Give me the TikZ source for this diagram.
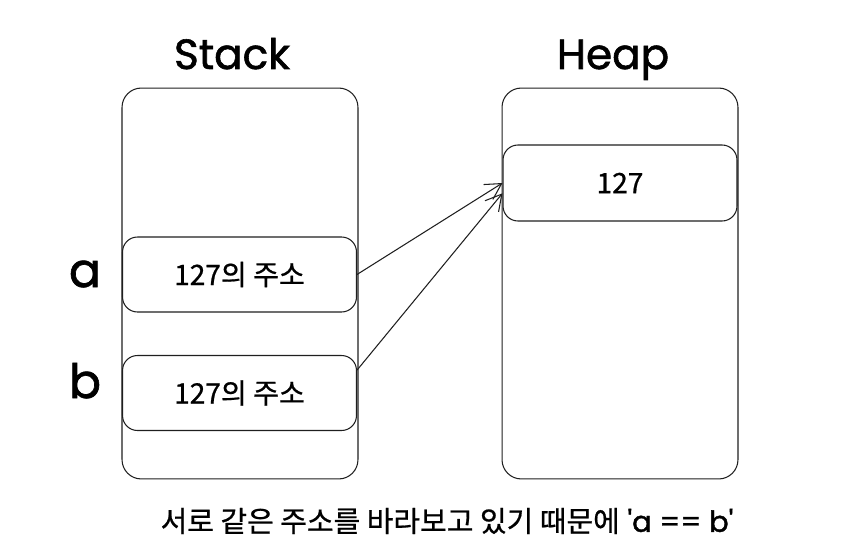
\documentclass[tikz,border=0pt]{standalone}
\usepackage{fontspec}
\setmainfont{Poppins}
\newfontfamily\handfont[FakeBold=1.4]{Poppins}
\newfontfamily\kofont[FakeBold=0.7]{Noto Sans CJK KR}
\usetikzlibrary{arrows.meta}

\newcommand\memtitlestyle{\handfont\fontsize{24}{28}\selectfont}
\newcommand\memvarstyle{\handfont\fontsize{27}{30}\selectfont}
\newcommand\memcellstyle{\kofont\fontsize{16}{19}\selectfont}
\newcommand\memnotestyle{\fontsize{16.5}{19}\selectfont}
\colorlet{memink}{black!88}

\tikzset{
  memarea/.style={draw=memink, line width=.6pt, rounded corners=11pt, minimum width=4.72cm, minimum height=7.82cm, inner sep=0pt},
  memcell/.style={draw=memink, line width=.6pt, rounded corners=8.5pt, fill=white, minimum width=4.68cm, minimum height=1.5cm, inner sep=0pt, font=\memcellstyle},
  memref/.style={draw=memink, line width=.6pt, -{Straight Barb[length=9pt, width=10pt]}},
}

\begin{document}
\begin{tikzpicture}[x=.02cm, y=-.02cm]
  \useasboundingbox (0, 0) rectangle (862, 554) ;
  % titles
  \draw (232, 69) node[anchor=base] (stacktitle) {\memtitlestyle Stack} ;
  \draw (613, 69) node[anchor=base] (heaptitle) {\memtitlestyle Heap} ;
  % memory areas
  \draw (240, 283.5) node[memarea] (stack) {} ;
  \draw (620, 283.5) node[memarea] (heap) {} ;
  % stack cells
  \draw (239.5, 274.5) node[memcell] (a) {127의 주소} ;
  \draw (239.5, 393) node[memcell] (b) {127의 주소} ;
  \draw (85, 287) node[anchor=base] (alabel) {\memvarstyle a} ;
  \draw (85, 398) node[anchor=base] (blabel) {\memvarstyle b} ;
  % heap value
  \draw (620, 183) node[memcell, minimum height=1.52cm] (v) {127} ;
  % references
  \draw[memref] (a.east) -- (v.west) ;
  \draw[memref] (b.11) -- (v.185) ;
  \draw (447, 521) node (note) {\memnotestyle {\kofont 서로 같은 주소를 바라보고 있기 때문에} {\handfont 'a == b'}} ;
\end{tikzpicture}
\end{document}
